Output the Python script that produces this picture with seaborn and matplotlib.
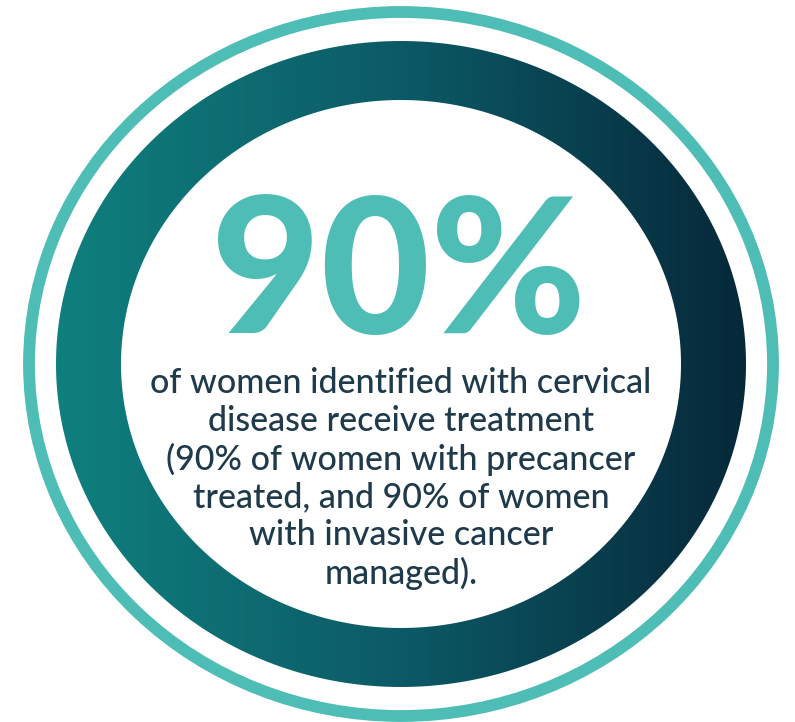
import numpy as np
import matplotlib
matplotlib.use("Agg")
import matplotlib.pyplot as plt
from matplotlib.path import Path
from matplotlib.patches import PathPatch, Ellipse
import seaborn as sns

# ---- content ----
stat_value = 90
stat_label = f"{stat_value}%"
desc_lines = [
    "of women identified with cervical",
    "disease receive treatment",
    "(90% of women with precancer",
    "treated, and 90% of women",
    "with invasive cancer",
    "managed).",
]
gradient_colors = ["#0f807e", "#0c5a66", "#06283a"]
accent_color = "#4dbdb6"
text_color = "#1e3a4b"

sns.set_theme(style="white")
plt.rcParams["font.family"] = ["Lato", "DejaVu Sans"]

W, H = 795, 722
fig = plt.figure(figsize=(W / 100, H / 100), dpi=100)
ax = fig.add_axes([0, 0, 1, 1])
ax.set_xlim(0, W)
ax.set_ylim(H, 0)
ax.axis("off")
fig.patch.set_facecolor("white")

cx, cy = 401, 364
# thin outer ring
ax.add_patch(Ellipse((cx, cy), 2 * 372, 2 * 352, fill=False,
                     edgecolor=accent_color, linewidth=8.5))

# thick gradient ring (annulus clip)
rxo, ryo = 345, 323
rxi, ryi = 280, 264
t = np.linspace(0, 2 * np.pi, 400)
outer = np.column_stack([cx + rxo * np.cos(t), cy + ryo * np.sin(t)])
inner = np.column_stack([cx + rxi * np.cos(t[::-1]), cy + ryi * np.sin(t[::-1])])
verts = np.vstack([outer, inner])
codes = np.full(len(verts), Path.LINETO)
codes[0] = Path.MOVETO
codes[len(outer)] = Path.MOVETO
path = Path(verts, codes)
clip = PathPatch(path, facecolor="none", edgecolor="none")
ax.add_patch(clip)
cmap = sns.blend_palette(gradient_colors, n_colors=256, as_cmap=True)
grad = np.linspace(0, 1, 512).reshape(1, -1)
im = ax.imshow(grad, cmap=cmap, aspect="auto",
               extent=[cx - rxo, cx + rxo, cy + ryo, cy - ryo], interpolation="bilinear")
im.set_clip_path(clip)

# big stat
ax.text(cx - 2, 333, stat_label, ha="center", va="baseline", fontsize=136,
        fontweight="black", color=accent_color)

# description
y0, dy = 383, 38
for i, line in enumerate(desc_lines):
    ax.text(cx, y0 + i * dy, line, ha="center", va="center", fontsize=24.5,
            color=text_color, fontweight="medium")

fig.savefig("out.png", dpi=100, facecolor="white")
